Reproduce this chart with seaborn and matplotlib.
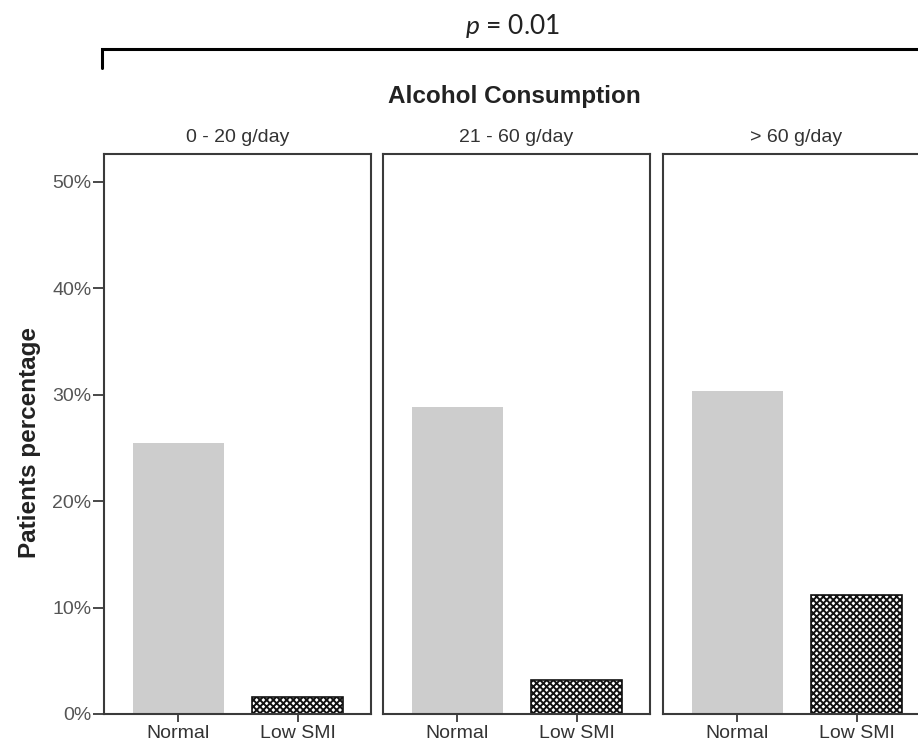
import pandas as pd
import matplotlib.pyplot as plt
import seaborn as sns
from matplotlib.lines import Line2D
from matplotlib.ticker import PercentFormatter

# data
groups = ['0 - 20 g/day', '21 - 60 g/day', '> 60 g/day']
muscle = ['Normal', 'Low SMI']
normal_pct = [25.5, 28.8, 30.3]
low_smi_pct = [1.6, 3.2, 11.2]
y_ticks = [0, 10, 20, 30, 40, 50]

sns.set_style('white')
plt.rcParams['font.family'] = ['Liberation Sans', 'DejaVu Sans']
plt.rcParams['hatch.linewidth'] = 1.4
plt.rcParams['mathtext.fontset'] = 'custom'
plt.rcParams['mathtext.rm'] = 'Lato'
plt.rcParams['mathtext.it'] = 'Lato:italic'

W, H = 918, 749
fig = plt.figure(figsize=(W / 100, H / 100), dpi=100)

spine_col = '#3a3a3a'
lefts = [104, 383, 663]
for i, g in enumerate(groups):
    ax = fig.add_axes([lefts[i] / W, (H - 714) / H, 267 / W, 560 / H])
    df = pd.DataFrame({'muscle': muscle, 'pct': [normal_pct[i], low_smi_pct[i]]})
    sns.barplot(data=df, x='muscle', y='pct', ax=ax, width=0.76,
                color='#cdcdcd', saturation=1, linewidth=0)
    low = ax.patches[1]
    low.set_facecolor('white')
    low.set_edgecolor('#111111')
    low.set_linewidth(1.2)
    low.set_hatch('xxxxx')

    ax.set_xlim(-0.62, 1.61)
    ax.set_ylim(0, 52.6)
    ax.set_xlabel('')
    ax.set_ylabel('')
    for s in ax.spines.values():
        s.set_visible(True)
        s.set_color(spine_col)
        s.set_linewidth(1.5)
    ax.tick_params(axis='x', bottom=True, length=6, width=1.3, color=spine_col,
                   labelsize=14, labelcolor='#333333', pad=2)
    if i == 0:
        ax.set_yticks(y_ticks)
        ax.yaxis.set_major_formatter(PercentFormatter(decimals=0))
        ax.tick_params(axis='y', left=True, length=8, width=1.3, color=spine_col,
                       labelsize=14, labelcolor='#555555', pad=1)
    else:
        ax.set_yticks([])
    fig.text((lefts[i] + 133.5) / W, 1 - 137 / H, g, ha='center', va='center',
             fontsize=14, color='#333333')

fig.text(512 / W, 1 - 26 / H, r'$p$ = 0.01', ha='center', va='center',
         fontsize=19, family='Lato', color='#222222')
fig.add_artist(Line2D([102 / W, 102 / W, 1.02], [1 - 68 / H, 1 - 49 / H, 1 - 49 / H],
                      transform=fig.transFigure, color='black', linewidth=2.2,
                      solid_joinstyle='miter'))
fig.text(514 / W, 1 - 97 / H, 'Alcohol Consumption', ha='center', va='center',
         fontsize=17.5, fontweight='bold', color='#222222')
fig.text(30 / W, 1 - 442 / H, 'Patients percentage', ha='center', va='center',
         rotation=90, fontsize=17.5, fontweight='bold', color='#222222')

fig.savefig('out.png', dpi=100)
